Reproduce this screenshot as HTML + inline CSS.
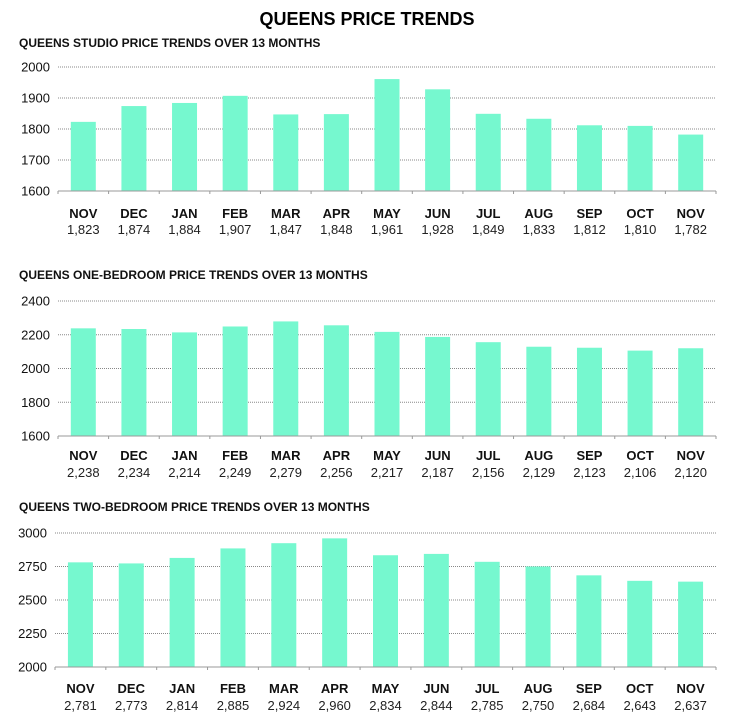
<!DOCTYPE html>
<html><head><meta charset="utf-8"><style>
body{margin:0;background:#fff;}
svg{display:block;font-family:"Liberation Sans",sans-serif;}
</style></head><body>
<svg id="s" width="742" height="722" xmlns="http://www.w3.org/2000/svg">
<text x="367" y="25" text-anchor="middle" font-size="18" font-weight="bold" fill="#000">QUEENS PRICE TRENDS</text>
</svg>
<script>
const s=document.getElementById('s');
const M=["NOV","DEC","JAN","FEB","MAR","APR","MAY","JUN","JUL","AUG","SEP","OCT","NOV"];
const charts=[
 {t:"QUEENS STUDIO PRICE TRENDS OVER 13 MONTHS",ty:47,top:67,bot:191,min:1600,max:2000,step:100,L:58,
  v:[1823,1874,1884,1907,1847,1848,1961,1928,1849,1833,1812,1810,1782],my:218,vy:234},
 {t:"QUEENS ONE-BEDROOM PRICE TRENDS OVER 13 MONTHS",ty:279,top:301,bot:436,min:1600,max:2400,step:200,L:58,
  v:[2238,2234,2214,2249,2279,2256,2217,2187,2156,2129,2123,2106,2120],my:460,vy:477},
 {t:"QUEENS TWO-BEDROOM PRICE TRENDS OVER 13 MONTHS",ty:511,top:533,bot:667,min:2000,max:3000,step:250,L:55,
  v:[2781,2773,2814,2885,2924,2960,2834,2844,2785,2750,2684,2643,2637],my:693,vy:710}
];
let h='';
for(const c of charts){
 const R=716,W=(R-c.L)/13;
 h+=`<text x="19" y="${c.ty}" font-size="12" font-weight="bold" fill="#111">${c.t}</text>`;
 for(let v=c.min;v<=c.max;v+=c.step){
  const y=c.bot-(v-c.min)/(c.max-c.min)*(c.bot-c.top);
  if(v>c.min)h+=`<line x1="${c.L}" x2="${R}" y1="${y}" y2="${y}" stroke="#888" stroke-width="1" stroke-dasharray="1,1"/>`;
  h+=`<text x="${c.L-8}" y="${y+4.5}" text-anchor="end" font-size="13" fill="#111">${v}</text>`;
 }
 c.v.forEach((v,i)=>{
  const cx=c.L+W*(i+0.5);
  const y=c.bot-(v-c.min)/(c.max-c.min)*(c.bot-c.top);
  h+=`<rect x="${cx-12.5}" y="${y}" width="25" height="${c.bot-y}" fill="#76f8cf"/>`;
  h+=`<text x="${cx}" y="${c.my}" text-anchor="middle" font-size="13" font-weight="bold" fill="#111">${M[i]}</text>`;
  h+=`<text x="${cx}" y="${c.vy}" text-anchor="middle" font-size="13" fill="#222">${v.toLocaleString('en-US')}</text>`;
 });
 h+=`<line x1="${c.L}" x2="${R}" y1="${c.bot}" y2="${c.bot}" stroke="#999" stroke-width="1"/>`;
 for(let i=0;i<=13;i++){const x=c.L+W*i;h+=`<line x1="${x}" x2="${x}" y1="${c.bot}" y2="${c.bot+3}" stroke="#999"/>`;}
}
s.insertAdjacentHTML('beforeend',h);
</script>
</body></html>
